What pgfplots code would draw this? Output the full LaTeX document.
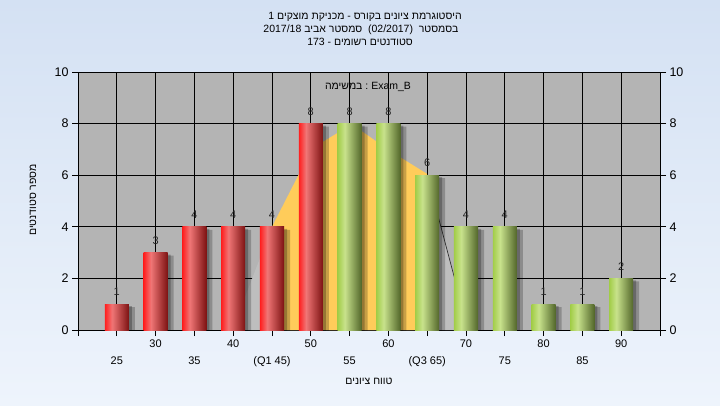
\documentclass[border=0pt]{standalone}
\usepackage{fontspec}
\setmainfont{Liberation Sans}
\newfontfamily\heb[Script=Hebrew]{Liberation Sans}
\TeXXeTstate=1
\usepackage{pgfplots}
\pgfplotsset{compat=1.18}
\usepackage{pgfplotstable}

\definecolor{bgtop}{RGB}{212,225,243}
\definecolor{bgbot}{RGB}{238,244,252}
\definecolor{plotbg}{RGB}{180,180,180}
\definecolor{lightarea}{RGB}{190,190,190}
\definecolor{yel}{RGB}{255,204,90}
\definecolor{redL}{RGB}{255,30,30}
\definecolor{redM}{RGB}{240,118,118}
\definecolor{redR}{RGB}{125,18,18}
\definecolor{grnL}{RGB}{162,205,72}
\definecolor{grnM}{RGB}{200,226,140}
\definecolor{grnR}{RGB}{82,102,42}

\pgfdeclarehorizontalshading{redbar}{100bp}{color(0bp)=(redL); color(25bp)=(redL); color(40bp)=(redM); color(75bp)=(redR); color(100bp)=(redR)}
\pgfdeclarehorizontalshading{grnbar}{100bp}{color(0bp)=(grnL); color(25bp)=(grnL); color(40bp)=(grnM); color(75bp)=(grnR); color(100bp)=(grnR)}

% grade bins and number of students (below / above the median)
\pgfplotstableread{
x y
25 1
30 3
35 4
40 4
45 4
50 8
}\redtab
\pgfplotstableread{
x y
55 8
60 8
65 6
70 4
75 4
80 1
85 1
90 2
}\grntab

\pgfplotsset{
  common/.style={
    at={(78pt,75pt)}, anchor=south west,
    width=582pt, height=258pt, scale only axis,
    xmin=20, xmax=95, ymin=0, ymax=10,
    ytick={0,2,...,10},
    tick align=outside, major tick length=6pt,
    tick style={black, line width=0.9pt},
    axis line style={black, line width=0.9pt},
    /pgf/number format/assume math mode=true,
    yticklabel style={font=\fontsize{12.5}{14}\selectfont},
    xticklabel style={font=\fontsize{11}{13}\selectfont},
  },
  bar/.style={ybar, bar width=3.1, bar shift=0, draw=none, shade, shading angle=0, nodes near coords},
  redb/.style={bar, shading=redbar},
  grnb/.style={bar, shading=grnbar},
}

\begin{document}
\begin{tikzpicture}
\useasboundingbox (0,0) rectangle (720pt,405pt);
\shade[top color=bgtop, bottom color=bgbot] (0,0) rectangle (720pt,405pt);

\begin{axis}[common,
  axis background/.style={fill=plotbg},
  xtick={20,30,...,90}, xticklabels={,30,40,50,60,70,80,90},
  extra x ticks={25,35,...,95},
  extra x tick labels={25,35,(Q1 45),55,(Q3 65),75,85,},
  extra x tick style={grid=major, xticklabel style={yshift=-17pt}},
  grid=major, grid style={black, line width=0.9pt},
  ytick pos=left, xtick pos=bottom,
  nodes near coords style={font=\fontsize{11}{13}\selectfont, text=black!85, anchor=center, yshift=12pt},
]
% normal curve behind the bars
\addplot[fill=lightarea, draw=none] coordinates {(39.9,0) (45,4) (65,6) (70.3,0)};
\addplot[fill=yel, draw=none] coordinates {(45,0) (45,4) (48.4,6.0) (51.6,7.3) (53.5,7.65) (55,7.9) (56.6,7.7) (58.5,7.3) (61.5,6.7) (65,6.05) (65,0)};
\addplot[black!80, line width=0.7pt] coordinates {(65,6) (70.3,0)};
% shadows
\addplot[ybar, bar width=3.1, bar shift=0, fill=black, opacity=0.22, draw=none, xshift=6pt, yshift=-3pt] table {\redtab};
\addplot[ybar, bar width=3.1, bar shift=0, fill=black, opacity=0.22, draw=none, xshift=6pt, yshift=-3pt] table {\grntab};
\addplot[ybar, bar width=3.1, bar shift=0, fill=black, opacity=0.25, draw=none, xshift=3pt, yshift=-2pt] table {\redtab};
\addplot[ybar, bar width=3.1, bar shift=0, fill=black, opacity=0.25, draw=none, xshift=3pt, yshift=-2pt] table {\grntab};
% bars, one path each so every bar gets its own cylinder shading
\addplot[redb] coordinates {(25,1)};
\addplot[redb] coordinates {(30,3)};
\addplot[redb] coordinates {(35,4)};
\addplot[redb] coordinates {(40,4)};
\addplot[redb] coordinates {(45,4)};
\addplot[redb] coordinates {(50,8)};
\addplot[grnb] coordinates {(55,8)};
\addplot[grnb] coordinates {(60,8)};
\addplot[grnb] coordinates {(65,6)};
\addplot[grnb] coordinates {(70,4)};
\addplot[grnb] coordinates {(75,4)};
\addplot[grnb] coordinates {(80,1)};
\addplot[grnb] coordinates {(85,1)};
\addplot[grnb] coordinates {(90,2)};
\end{axis}

\begin{axis}[common,
  axis x line=none, axis y line*=right,
]
\end{axis}

\node[font=\heb\fontsize{10.5}{13}\selectfont] at (365pt,388.3pt) {\beginR היסטוגרמת ציונים בקורס - מכניקת מוצקים 1\endR};
\node[font=\heb\fontsize{10.5}{13}\selectfont] at (361pt,375pt) {\beginR בסמסטר\ \ \beginL(02/2017)\endL{}\ \ סמסטר אביב \beginL2017/18\endL\endR};
\node[font=\heb\fontsize{10.5}{13}\selectfont] at (360pt,362.7pt) {\beginR סטודנטים רשומים - 173\endR};
\node[font=\heb\fontsize{10.5}{13}\selectfont] at (368pt,318pt) {\beginR\beginL Exam\_B\endL{} : במשימה\endR};
\node[font=\heb\fontsize{10.5}{13}\selectfont, rotate=90] at (33pt,205pt) {\beginR מספר סטודנטים\endR};
\node[font=\heb\fontsize{10.5}{13}\selectfont] at (369pt,24pt) {\beginR טווח ציונים\endR};
\end{tikzpicture}
\end{document}
